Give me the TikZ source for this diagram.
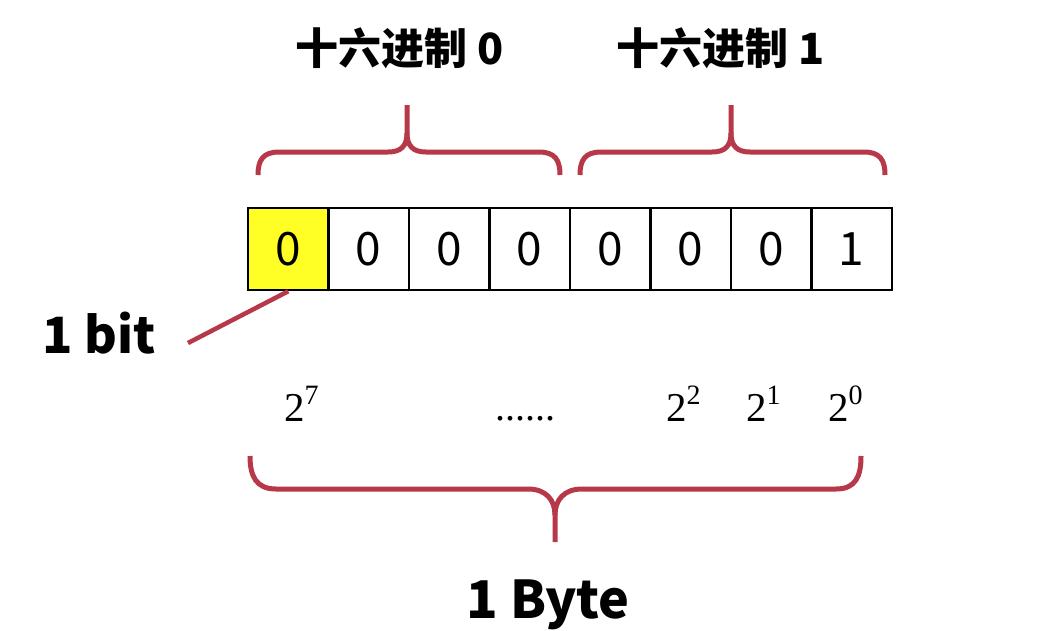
\documentclass[tikz,border=0pt]{standalone}
\usepackage{fontspec}
\newfontfamily\cjk{Noto Sans CJK SC}
\newfontfamily\powfont{Liberation Serif}
\definecolor{bracered}{RGB}{183,56,72}
\definecolor{bityellow}{RGB}{255,255,38}
\newcommand{\pw}[1]{2\raisebox{0.40em}{\fontsize{28}{28}\selectfont #1}}
\begin{document}
\begin{tikzpicture}[x=1pt,y=-1pt,
  cell/.style={draw=black,line width=2.5pt,minimum width=80.5pt,minimum height=82pt,inner sep=0pt,
    font=\cjk\fontsize{46}{50}\selectfont},
  brace/.style={draw=bracered,line width=5pt},
  title/.style={font=\cjk\bfseries\fontsize{43}{50}\selectfont,anchor=base,inner sep=0pt},
  big/.style={font=\cjk\bfseries\fontsize{52}{60}\selectfont,inner sep=0pt},
  pow/.style={font=\powfont\fontsize{41}{44}\selectfont,anchor=base west,inner sep=0pt}]
\useasboundingbox[fill=white] (0,0) rectangle (1047,630);
% cells
\foreach \i/\v in {1/0,2/0,3/0,4/0,5/0,6/0,7/0,8/1}{
  \node[cell] (c\i) at ({248+80.5*(\i-0.5)},249) {\v};
}
\fill[bityellow] (c1.north west) rectangle (c1.south east);
\node[cell] (c1) at ({248+80.5*0.5},249) {0};
% titles
\node[title] (t0) at (400,64) {十六进制 0};
\node[title] (t1) at (721,64) {十六进制 1};
% top braces
\draw[brace] (258,175) .. controls (258,160) and (263,152) .. (279,152) -- (388,152)
  .. controls (401,152) and (407,146) .. (407,133) -- (407,105);
\draw[brace] (407,133) .. controls (407,146) and (413,152) .. (426,152) -- (539,152)
  .. controls (555,152) and (560,160) .. (560,175);
\draw[brace] (580,175) .. controls (580,160) and (585,152) .. (601,152) -- (712,152)
  .. controls (725,152) and (731,146) .. (731,133) -- (731,105);
\draw[brace] (731,133) .. controls (731,146) and (737,152) .. (750,152) -- (864,152)
  .. controls (880,152) and (885,160) .. (885,175);
% 1 bit
\node[big,anchor=base west,font=\cjk\bfseries\fontsize{50}{60}\selectfont] (bit) at (42,353) {1 bit};
\coordinate (bitend) at (188,343);
\draw[draw=bracered,line width=4.5pt] (bitend) -- (c1.south);
% powers
\node[pow] (p7) at (284,421) {\pw{7}};
\node[font=\powfont\fontsize{40}{44}\selectfont,anchor=base,inner sep=0pt] (dots) at (525,420) {......};
\node[pow] (p2) at (666,421) {\pw{2}};
\node[pow] (p1) at (746,421) {\pw{1}};
\node[pow] (p0) at (828,421) {\pw{0}};
% bottom brace
\draw[brace] (250,456) .. controls (250,476) and (256,489) .. (276,489) -- (528,489)
  .. controls (546,489) and (555,500) .. (555,515) -- (555,542);
\draw[brace] (555,515) .. controls (555,500) and (564,489) .. (582,489) -- (836,489)
  .. controls (856,489) and (861,476) .. (861,456);
\node[big,anchor=base] (byte) at (548,618) {1 Byte};
\end{tikzpicture}
\end{document}
